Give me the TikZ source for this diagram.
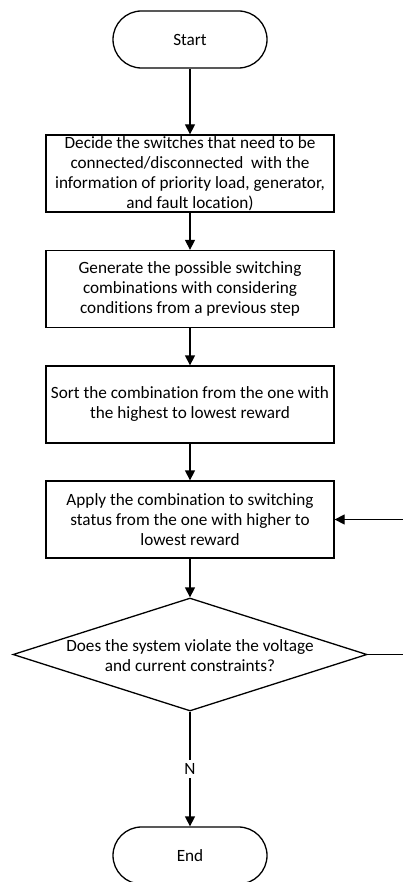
\documentclass[tikz,border=0pt]{standalone}
\usepackage{fontspec}
\setmainfont{Carlito}[Ligatures=NoCommon]
\usetikzlibrary{shapes.geometric,arrows.meta}
\begin{document}
\begin{tikzpicture}[x=1pt,y=-1pt,
  every node/.style={font=\fontsize{17.2}{20}\selectfont},
  proc/.style={draw,line width=1.3pt,minimum width=288pt,minimum height=77pt,inner sep=0pt,align=center},
  term/.style={draw,line width=1.3pt,rounded corners=28.5pt,minimum width=154pt,minimum height=57pt,inner sep=0pt},
  decis/.style={draw,diamond,line width=1.3pt,minimum width=354pt,minimum height=113pt,inner sep=0pt},
  arr/.style={line width=1.3pt,-{Triangle[width=10pt,length=10pt]}},
  ln/.style={line width=1.3pt}]
\clip (0,0) rectangle (403,882);
\node[term] (start) at (190,39.5) {Start};
\node[proc] (b1) at (190,173.5) {Decide the switches that need to be\\connected/disconnected\ \ with the\\information of priority load, generator,\\and fault location)};
\node[proc] (b2) at (190,289) {Generate the possible switching\\combinations with considering\\conditions from a previous step};
\node[proc] (b3) at (190,404.5) {Sort the combination from the one with\\the highest to lowest reward};
\node[proc] (b4) at (190,519.5) {Apply the combination to switching\\status from the one with higher to\\lowest reward};
\node[decis] (dec) at (190,654.5) {};
\node[align=center,inner sep=0pt] (dect) at (190,655.5) {Does the system violate the voltage\\and current constraints?};
\node[term] (end) at (190,855.5) {End};
\coordinate (r1) at (406,654.5);
\coordinate (r2) at (406,519.5);
\draw[arr] (start) -- (b1);
\draw[arr] (b1) -- (b2);
\draw[arr] (b2) -- (b3);
\draw[arr] (b3) -- (b4);
\draw[arr] (b4) -- (dec.north);
\draw[arr] (dec.south) -- node[fill=white,inner sep=3pt] (nlab) {N} (end);
\draw[ln] (dec.east) -- (r1);
\draw[arr] (r2) -- (b4.east);
\end{tikzpicture}
\end{document}
